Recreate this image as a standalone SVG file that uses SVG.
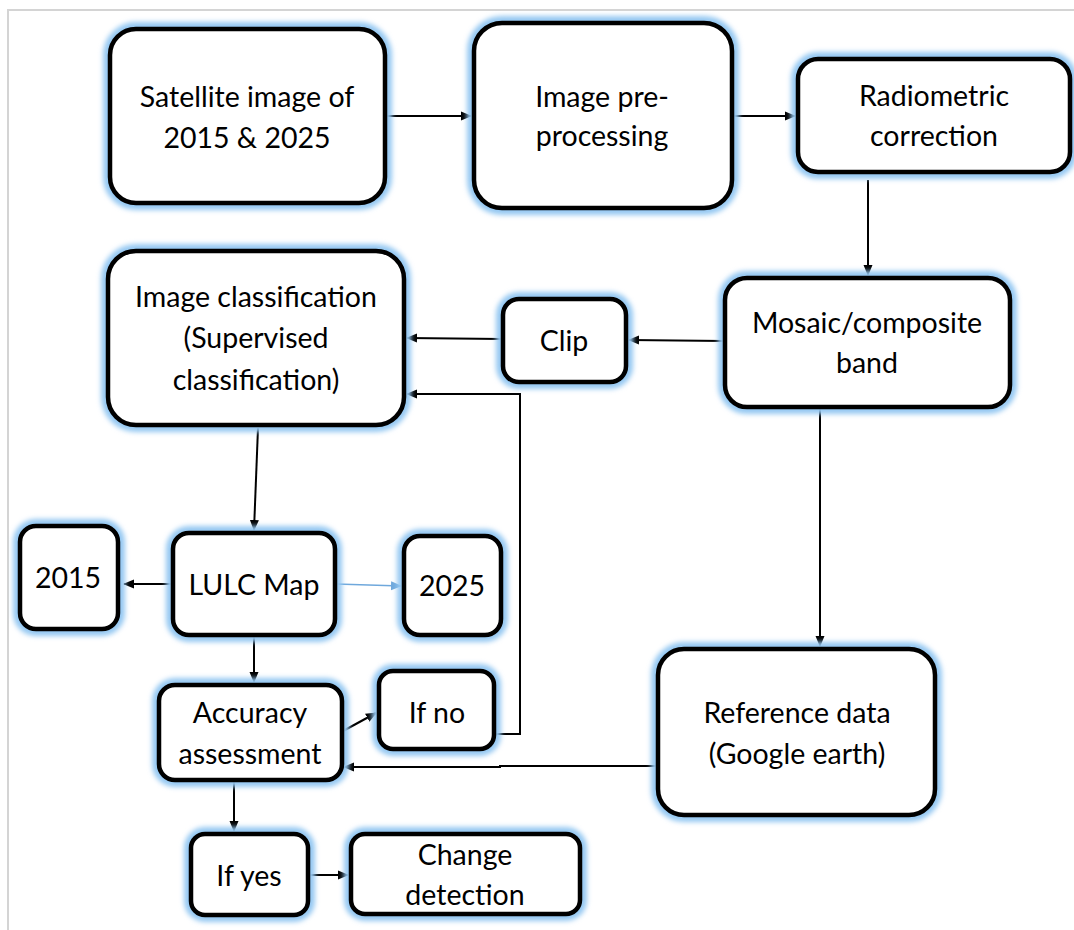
<svg xmlns="http://www.w3.org/2000/svg" width="1074" height="930" viewBox="0 0 1074 930">
  <style>
    .glow { fill: none; stroke: #94c8f2; stroke-width: 14; filter: url(#soft); }
    .box { fill: #ffffff; stroke: #000000; stroke-width: 4.5; }
    .lbl { font-family: Lato, "Liberation Sans", sans-serif; font-size: 28.5px; fill: #000000; text-anchor: middle; }
    .edge { fill: none; stroke: #000000; stroke-width: 2; }
    .edge-blue { fill: none; stroke: #6fa8dc; stroke-width: 1.3; }
  </style>
  <defs>
    <filter id="soft" x="-20%" y="-20%" width="140%" height="140%">
      <feGaussianBlur stdDeviation="2.5"/>
    </filter>
    <marker id="arrow" markerUnits="userSpaceOnUse" markerWidth="11" markerHeight="11" viewBox="0 0 11 11" refX="10" refY="5.5" orient="auto">
      <path d="M0,1 L11,5.5 L0,10 Z" fill="#000000"/>
    </marker>
    <marker id="arrow-blue" markerUnits="userSpaceOnUse" markerWidth="11" markerHeight="11" viewBox="0 0 11 11" refX="10" refY="5.5" orient="auto">
      <path d="M0,1 L11,5.5 L0,10 Z" fill="#6fa8dc"/>
    </marker>
  </defs>

  <rect width="1074" height="930" fill="#ffffff"/>
  <!-- page frame -->
  <path d="M8,930 L8,10 L1074,10" fill="none" stroke="#d4d4d4" stroke-width="2"/>

  <g id="connectors">
    <path class="edge" d="M385,116 L471,116" marker-end="url(#arrow)"/>
    <path class="edge" d="M732,116 L795,116" marker-end="url(#arrow)"/>
    <path class="edge" d="M868,180 L868,275" marker-end="url(#arrow)"/>
    <path class="edge" d="M724,341 L629,340" marker-end="url(#arrow)"/>
    <path class="edge" d="M502,339 L407,338" marker-end="url(#arrow)"/>
    <path class="edge" d="M494,734 L520,734 L520,394 L407,394" marker-end="url(#arrow)"/>
    <path class="edge" d="M258,428 L254,530" marker-end="url(#arrow)"/>
    <path class="edge" d="M172,584 L124,584" marker-end="url(#arrow)"/>
    <path class="edge-blue" d="M336,584 L401,586" marker-end="url(#arrow-blue)"/>
    <path class="edge" d="M254,636 L254,682" marker-end="url(#arrow)"/>
    <path class="edge" d="M343,731 L376,713" marker-end="url(#arrow)"/>
    <path class="edge" d="M820,408 L820,646" marker-end="url(#arrow)"/>
    <path class="edge" d="M657,766 L500,766 L500,767 L344,767" marker-end="url(#arrow)"/>
    <path class="edge" d="M234,780 L234,831" marker-end="url(#arrow)"/>
    <path class="edge" d="M308,875 L348,875" marker-end="url(#arrow)"/>
  </g>

  <g id="satellite">
    <rect class="glow" x="110" y="29" width="275" height="174" rx="26"/>
    <rect class="box" x="110" y="29" width="275" height="174" rx="26"/>
    <text class="lbl" x="247" y="107">Satellite image of</text>
    <text class="lbl" x="247" y="148">2015 &amp; 2025</text>
  </g>

  <g id="preprocessing">
    <rect class="glow" x="474" y="23" width="258" height="185" rx="28"/>
    <rect class="box" x="474" y="23" width="258" height="185" rx="28"/>
    <text class="lbl" x="602" y="107">Image pre-</text>
    <text class="lbl" x="602" y="146">processing</text>
  </g>

  <g id="radiometric">
    <rect class="glow" x="798" y="59" width="272" height="113" rx="20"/>
    <rect class="box" x="798" y="59" width="272" height="113" rx="20"/>
    <text class="lbl" x="934" y="106">Radiometric</text>
    <text class="lbl" x="934" y="146">correction</text>
  </g>

  <g id="mosaic">
    <rect class="glow" x="725" y="278" width="285" height="129" rx="22"/>
    <rect class="box" x="725" y="278" width="285" height="129" rx="22"/>
    <text class="lbl" x="867" y="333">Mosaic/composite</text>
    <text class="lbl" x="867" y="373">band</text>
  </g>

  <g id="clip">
    <rect class="glow" x="503" y="299" width="123" height="83" rx="16"/>
    <rect class="box" x="503" y="299" width="123" height="83" rx="16"/>
    <text class="lbl" x="564" y="351">Clip</text>
  </g>

  <g id="classification">
    <rect class="glow" x="108" y="251" width="296" height="174" rx="28"/>
    <rect class="box" x="108" y="251" width="296" height="174" rx="28"/>
    <text class="lbl" x="256" y="307">Image classification</text>
    <text class="lbl" x="256" y="348">(Supervised</text>
    <text class="lbl" x="256" y="390">classification)</text>
  </g>

  <g id="y2015">
    <rect class="glow" x="20" y="526" width="98" height="103" rx="16"/>
    <rect class="box" x="20" y="526" width="98" height="103" rx="16"/>
    <text class="lbl" x="68" y="588">2015</text>
  </g>

  <g id="lulc">
    <rect class="glow" x="173" y="533" width="162" height="102" rx="16"/>
    <rect class="box" x="173" y="533" width="162" height="102" rx="16"/>
    <text class="lbl" x="254" y="595">LULC Map</text>
  </g>

  <g id="y2025">
    <rect class="glow" x="404" y="536" width="97" height="99" rx="16"/>
    <rect class="box" x="404" y="536" width="97" height="99" rx="16"/>
    <text class="lbl" x="452" y="596">2025</text>
  </g>

  <g id="accuracy">
    <rect class="glow" x="159" y="685" width="183" height="95" rx="16"/>
    <rect class="box" x="159" y="685" width="183" height="95" rx="16"/>
    <text class="lbl" x="250" y="723">Accuracy</text>
    <text class="lbl" x="250" y="764">assessment</text>
  </g>

  <g id="ifno">
    <rect class="glow" x="379" y="671" width="115" height="78" rx="14"/>
    <rect class="box" x="379" y="671" width="115" height="78" rx="14"/>
    <text class="lbl" x="437" y="723">If no</text>
  </g>

  <g id="reference">
    <rect class="glow" x="658" y="649" width="277" height="166" rx="26"/>
    <rect class="box" x="658" y="649" width="277" height="166" rx="26"/>
    <text class="lbl" x="797" y="723">Reference data</text>
    <text class="lbl" x="797" y="764">(Google earth)</text>
  </g>

  <g id="ifyes">
    <rect class="glow" x="191" y="834" width="117" height="81" rx="14"/>
    <rect class="box" x="191" y="834" width="117" height="81" rx="14"/>
    <text class="lbl" x="249" y="886">If yes</text>
  </g>

  <g id="change">
    <rect class="glow" x="351" y="834" width="229" height="80" rx="14"/>
    <rect class="box" x="351" y="834" width="229" height="80" rx="14"/>
    <text class="lbl" x="465" y="865">Change</text>
    <text class="lbl" x="465" y="905">detection</text>
  </g>
</svg>
